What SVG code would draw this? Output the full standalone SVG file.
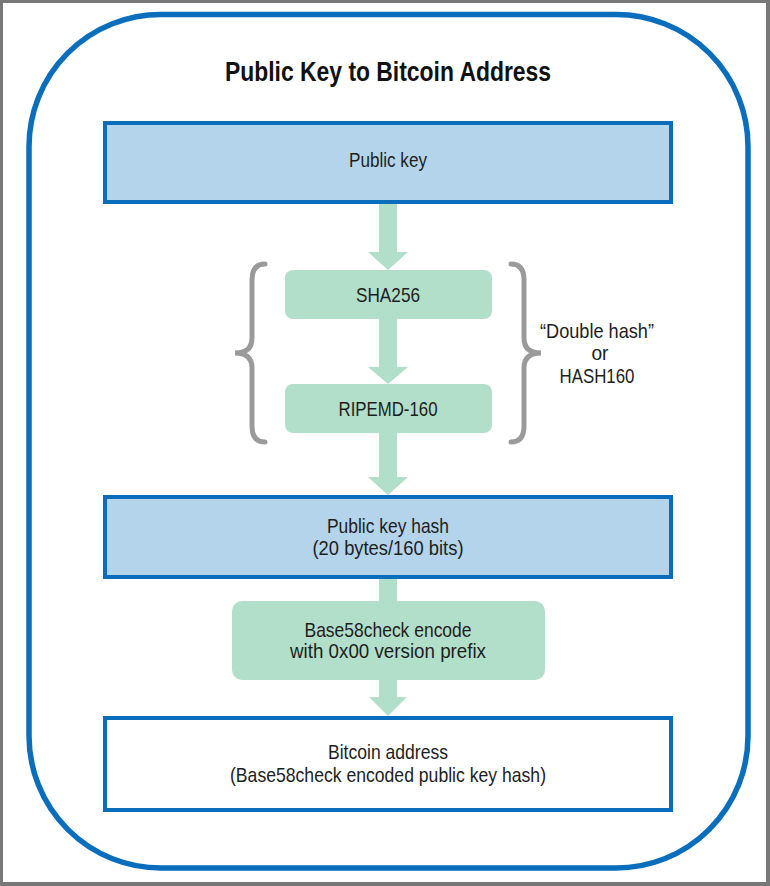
<svg xmlns="http://www.w3.org/2000/svg" width="770" height="886" viewBox="0 0 770 886">
<style>
.t{font-family:"Liberation Sans",Arial,sans-serif;font-size:21px;fill:#1e1e1e;text-anchor:middle}
.title{font-family:"Liberation Sans",Arial,sans-serif;font-size:27px;font-weight:bold;fill:#111;text-anchor:middle}
.blue{fill:#b3d4ea;stroke:#0a6ebd;stroke-width:4}
.white{fill:#fff;stroke:#0a6ebd;stroke-width:4}
.mint{fill:#b2dfc9}
.arr{fill:#b2dfc9}
.brace{fill:none;stroke:#9a9a9a;stroke-width:5;stroke-linecap:round}
</style>
<rect x="0" y="0" width="770" height="886" fill="#787878"/>
<rect x="3" y="3" width="763" height="879" fill="#fff"/>
<g id="frame">
<rect x="29" y="14.5" width="719" height="853.5" rx="132" ry="132" fill="none" stroke="#0a6ebd" stroke-width="5.5"/>
<text class="title" x="388" y="81" textLength="326" lengthAdjust="spacingAndGlyphs">Public Key to Bitcoin Address</text>
</g>
<g id="connectors">
<polygon class="arr" points="379,204 397,204 397,252 408,252 388,270 368,252 379,252"/>
<polygon class="arr" points="379,319 397,319 397,367 408,367 388,384 368,367 379,367"/>
<polygon class="arr" points="379,433 397,433 397,477 408,477 388,495 368,477 379,477"/>
<rect class="arr" x="379" y="579" width="18" height="24"/>
<polygon class="arr" points="379,678 397,678 397,697 407,697 388,716 369,697 379,697"/>
</g>
<g id="brace-left">
<path class="brace" d="M265,264 Q252,264 252,280 L252,338 Q252,353 235,353 Q252,353 252,368 L252,426 Q252,442 265,442"/>
</g>
<g id="brace-right">
<path class="brace" d="M511,264 Q524,264 524,280 L524,338 Q524,353 541,353 Q524,353 524,368 L524,426 Q524,442 511,442"/>
</g>
<g id="public-key">
<rect class="blue" x="105" y="123" width="566" height="79"/>
<text class="t" x="388" y="167" textLength="78" lengthAdjust="spacingAndGlyphs">Public key</text>
</g>
<g id="sha256">
<rect class="mint" x="285" y="270" width="207" height="49" rx="8"/>
<text class="t" x="388" y="302" textLength="64" lengthAdjust="spacingAndGlyphs">SHA256</text>
</g>
<g id="ripemd160">
<rect class="mint" x="285" y="384" width="207" height="49" rx="8"/>
<text class="t" x="388" y="416" textLength="99" lengthAdjust="spacingAndGlyphs">RIPEMD-160</text>
</g>
<g id="double-hash-label">
<text class="t" x="597" y="338" textLength="114" lengthAdjust="spacingAndGlyphs">“Double hash”</text>
<text class="t" x="600" y="360" textLength="17" lengthAdjust="spacingAndGlyphs">or</text>
<text class="t" x="597" y="383" textLength="75" lengthAdjust="spacingAndGlyphs">HASH160</text>
</g>
<g id="public-key-hash">
<rect class="blue" x="105" y="497" width="566" height="80"/>
<text class="t" x="388" y="533" textLength="122" lengthAdjust="spacingAndGlyphs">Public key hash</text>
<text class="t" x="388" y="555" textLength="151" lengthAdjust="spacingAndGlyphs">(20 bytes/160 bits)</text>
</g>
<g id="base58check">
<rect class="mint" x="232" y="601" width="313" height="79" rx="10"/>
<text class="t" x="388" y="637" textLength="167" lengthAdjust="spacingAndGlyphs">Base58check encode</text>
<text class="t" x="388" y="658" textLength="196" lengthAdjust="spacingAndGlyphs">with 0x00 version prefix</text>
</g>
<g id="bitcoin-address">
<rect class="white" x="105" y="718" width="566" height="92"/>
<text class="t" x="388" y="759" textLength="120" lengthAdjust="spacingAndGlyphs">Bitcoin address</text>
<text class="t" x="388" y="782" textLength="316" lengthAdjust="spacingAndGlyphs">(Base58check encoded public key hash)</text>
</g>
</svg>
